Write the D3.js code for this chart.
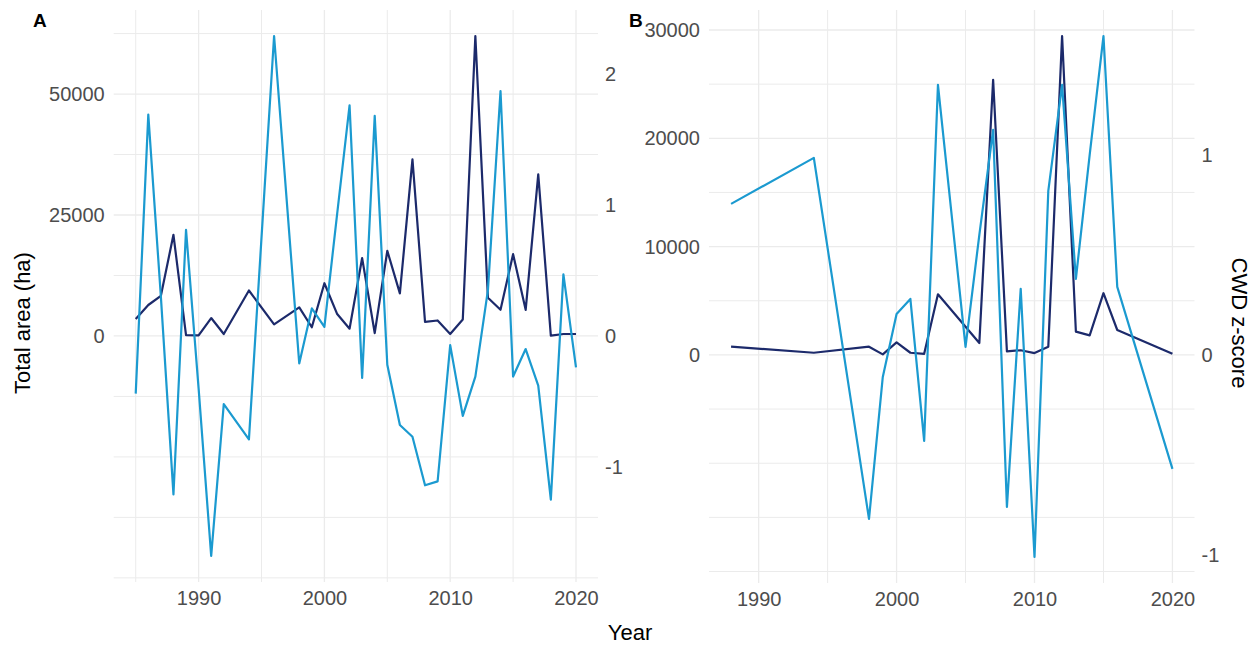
<!DOCTYPE html>
<html>
<head>
<meta charset="utf-8">
<script src="https://cdn.jsdelivr.net/npm/d3@7"></script>
<style>
  body { margin: 0; background: #fff; }
  svg { font-family: "Liberation Sans", Arial, sans-serif; }
</style>
</head>
<body>
<div id="chart"></div>
<script>
// panel A : all fires
var yearsA = [1985, 1986, 1987, 1988, 1989, 1990, 1991, 1992, 1994, 1996, 1998, 1999, 2000, 2001, 2002, 2003,
  2004, 2005, 2006, 2007, 2008, 2009, 2010, 2011, 2012, 2013, 2014, 2015, 2016, 2017, 2018, 2019, 2020];
var areaA = [3500, 6400, 8300, 20900, 150, 100, 3700, 400, 9400, 2400, 5900, 1800, 10900, 4600, 1500, 16100,
  600, 17600, 8800, 36500, 2900, 3200, 400, 3400, 62000, 7900, 5400, 16900, 5400, 33400, 50, 400, 400];
var cwdA = [-0.44, 1.69, 0.30, -1.21, 0.81, -0.40, -1.68, -0.52, -0.79, 2.29, -0.21, 0.21, 0.07, 0.92, 1.76, -0.32,
  1.68, -0.22, -0.68, -0.77, -1.14, -1.11, -0.07, -0.61, -0.31, 0.35, 1.87, -0.31, -0.10, -0.38, -1.25, 0.47, -0.24];

// panel B
var yearsB = [1988, 1994, 1998, 1999, 2000, 2001, 2002, 2003, 2005, 2006, 2007, 2008, 2009, 2010, 2011,
  2012, 2013, 2014, 2015, 2016, 2020];
var areaB = [760, 200, 760, 50, 1150, 200, 100, 5600, 2600, 1100, 25400, 330, 430, 170, 760,
  29440, 2150, 1800, 5700, 2300, 100];
var cwdB = [0.755, 0.985, -0.82, -0.11, 0.205, 0.28, -0.43, 1.35, 0.04, 0.6, 1.125, -0.76, 0.33, -1.01, 0.82,
  1.35, 0.38, 1.0, 1.594, 0.34, -0.57];

// axis breaks
var leftTicksA = [0, 25000, 50000];
var rightTicksA = [-1, 0, 1, 2];
var leftTicksB = [0, 10000, 20000, 30000];
var rightTicksB = [-1, 0, 1];
var yearTicks = [1990, 2000, 2010, 2020];

var W = 1258, H = 648;
var darkCol = '#1c2a6b', lightCol = '#1b9ad0', gridCol = '#ebebeb', tickCol = '#4d4d4d';

var svg = d3.select('#chart').append('svg')
  .attr('width', W)
  .attr('height', H);

//plain hyphen for negatives, like the R output
var fmt = function (d) { return String(d); };

function panel(opt) {
  var years = opt.years, area = opt.area, cwd = opt.cwd;
  // scale factor for the secondary axis: peaks line up
  var k = d3.max(area) / d3.max(cwd);
  var rows = years.map(function (yr, i) { return { year: yr, area: area[i], z: cwd[i] * k }; });

  var xExt = d3.extent(years), xPad = (xExt[1] - xExt[0]) * 0.05;
  var yMin = d3.min(rows, function (d) { return Math.min(d.area, d.z); });
  var yMax = d3.max(rows, function (d) { return Math.max(d.area, d.z); });
  var yPad = (yMax - yMin) * 0.05;

  var x = d3.scaleLinear().domain([xExt[0] - xPad, xExt[1] + xPad]).range([opt.left, opt.right]);
  var y = d3.scaleLinear().domain([yMin - yPad, yMax + yPad]).range([opt.bottom, opt.top]);

  var g = svg.append('g');

  //grid lines, horizontal from left axis
  var hLines = d3.range(opt.gridFrom, y.domain()[1], opt.gridStep);
  g.selectAll('line.h').data(hLines).enter().append('line')
    .attr('x1', opt.left).attr('x2', opt.right)
    .attr('y1', function (d) { return y(d); }).attr('y2', function (d) { return y(d); })
    .attr('stroke', gridCol)
    .attr('stroke-width', function (d) { return opt.leftTicks.indexOf(d) >= 0 ? 1.3 : 1; });

  var vLines = d3.range(1985, 2021, 5).filter(function (d) { return d >= x.domain()[0]; });
  g.selectAll('line.v').data(vLines).enter().append('line')
    .attr('x1', function (d) { return x(d); }).attr('x2', function (d) { return x(d); })
    .attr('y1', opt.top).attr('y2', opt.bottom)
    .attr('stroke', gridCol)
    .attr('stroke-width', function (d) { return d % 10 === 0 ? 1.3 : 1; });

  //axes
  var xAxis = d3.axisBottom(x).tickValues(yearTicks).tickSize(0).tickPadding(9).tickFormat(fmt);
  var leftAxis = d3.axisLeft(y).tickValues(opt.leftTicks).tickSize(0).tickPadding(9).tickFormat(fmt);
  var zScale = d3.scaleLinear().domain(y.domain().map(function (v) { return v / k; })).range(y.range());
  var rightAxis = d3.axisRight(zScale).tickValues(opt.rightTicks).tickSize(0).tickPadding(7).tickFormat(fmt);

  [[xAxis, 'translate(0,' + opt.bottom + ')'], [leftAxis, 'translate(' + opt.left + ',0)'],
   [rightAxis, 'translate(' + opt.right + ',0)']].forEach(function (a) {
    var ax = g.append('g').attr('transform', a[1]).call(a[0]);
    ax.select('.domain').remove();
    ax.selectAll('text')
      .attr('fill', tickCol)
      .style('font-size', '20px')
      .style('font-family', '"Liberation Sans", Arial, sans-serif');
  });

  //lines
  var areaLine = d3.line().x(function (d) { return x(d.year); }).y(function (d) { return y(d.area); });
  var zLine = d3.line().x(function (d) { return x(d.year); }).y(function (d) { return y(d.z); });

  g.append('path').datum(rows)
    .attr('d', areaLine)
    .attr('fill', 'none')
    .attr('stroke', darkCol)
    .attr('stroke-width', 2.2)
    .attr('stroke-linejoin', 'round');

  g.append('path').datum(rows)
    .attr('d', zLine)
    .attr('fill', 'none')
    .attr('stroke', lightCol)
    .attr('stroke-width', 2.2)
    .attr('stroke-linejoin', 'round');

  svg.append('text')
    .attr('x', opt.tagX).attr('y', 27)
    .attr('font-weight', 'bold')
    .attr('font-size', 19)
    .text(opt.tag);
}

panel({ years: yearsA, area: areaA, cwd: cwdA, leftTicks: leftTicksA, rightTicks: rightTicksA,
  left: 113.7, right: 598, top: 10, bottom: 582, gridFrom: -50000, gridStep: 12500, tag: 'A', tagX: 33 });

panel({ years: yearsB, area: areaB, cwd: cwdB, leftTicks: leftTicksB, rightTicks: rightTicksB,
  left: 709, right: 1194.5, top: 10, bottom: 583, gridFrom: -20000, gridStep: 5000, tag: 'B', tagX: 629 });

//shared axis titles
svg.append('text')
  .attr('x', 630).attr('y', 640)
  .attr('text-anchor', 'middle')
  .attr('font-size', 22)
  .text('Year');

svg.append('text')
  .attr('transform', 'translate(30,323) rotate(-90)')
  .attr('text-anchor', 'middle')
  .attr('font-size', 22)
  .text('Total area (ha)');

svg.append('text')
  .attr('transform', 'translate(1232,323) rotate(90)')
  .attr('text-anchor', 'middle')
  .attr('font-size', 22)
  .text('CWD z-score');
</script>
</body>
</html>
